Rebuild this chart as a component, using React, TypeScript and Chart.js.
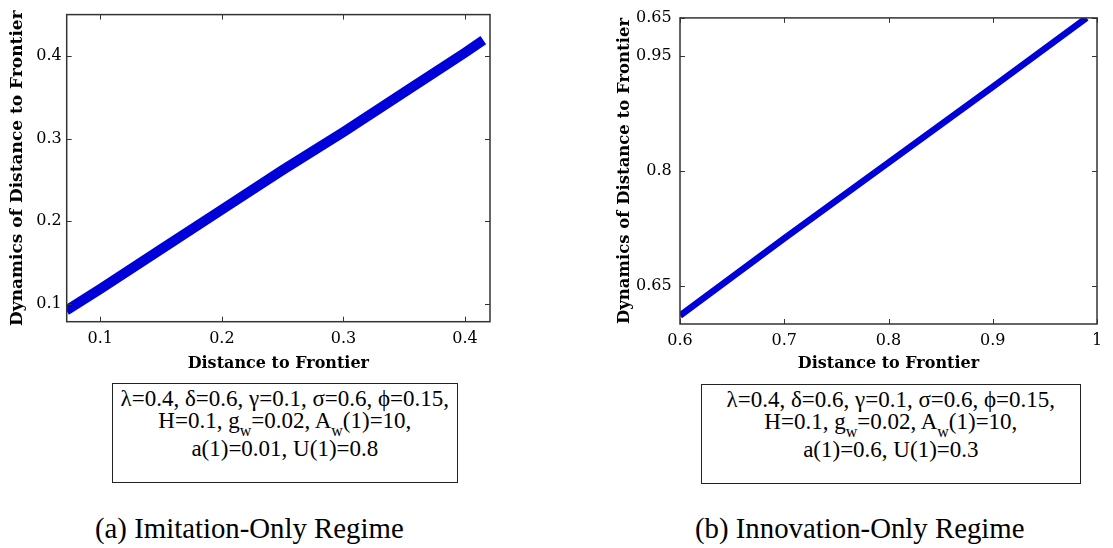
import React, { useEffect, useRef } from "react";
import { Chart, registerables } from "chart.js";

Chart.register(...registerables);

// ---------- data ----------
const imitationX = [0.072, 0.1, 0.15, 0.2, 0.25, 0.3, 0.35, 0.4, 0.415];
const imitationY = [0.092, 0.118, 0.166, 0.214, 0.262, 0.308, 0.356, 0.404, 0.419];

const innovationX = [0.6, 0.7, 0.8, 0.9, 0.99];
const innovationY = [0.611, 0.712, 0.811, 0.91, 1.0];

const aXTickValues = [0.1, 0.2, 0.3, 0.4];
const aXTickLabels = ["0.1", "0.2", "0.3", "0.4"];
const aYTickValues = [0.1, 0.2, 0.3, 0.4];
const aYTickLabels = ["0.1", "0.2", "0.3", "0.4"];

const bXTickValues = [0.6, 0.7, 0.8, 0.9, 1.0];
const bXTickLabels = ["0.6", "0.7", "0.8", "0.9", "1"];
const bYTickValues = [0.65, 0.8, 0.95, 1.0];
const bYTickLabels = ["0.65", "0.8", "0.95", "0.65"];

const xTitle = "Distance to Frontier";
const yTitle = "Dynamics of Distance to Frontier";

const captionA = "(a) Imitation-Only Regime";
const captionB = "(b) Innovation-Only Regime";

const paramLine1 = "λ=0.4, δ=0.6, γ=0.1, σ=0.6, ϕ=0.15,";
const paramAB = { a: "a(1)=0.01, U(1)=0.8", b: "a(1)=0.6, U(1)=0.3" };

const SERIF_CANVAS = "'DejaVu Serif', 'Liberation Serif', serif";

// ---------- helpers ----------
const labelFrom = (vals: number[], labels: string[]) => (v: any) => {
  const n = Number(v);
  const i = vals.findIndex((t) => Math.abs(t - n) < 1e-6);
  return i >= 0 ? labels[i] : null;
};

const boxTicks = {
  id: "boxTicks",
  afterDatasetsDraw(chart: any) {
    const { ctx, chartArea } = chart;
    const { left, right, top, bottom } = chartArea;
    const len = 5;
    ctx.save();
    ctx.strokeStyle = "#333";
    ctx.lineWidth = 1;
    ctx.beginPath();
    const xs = chart.scales.x;
    for (const t of xs.ticks) {
      const px = Math.round(xs.getPixelForValue(t.value)) + 0.5;
      ctx.moveTo(px, bottom);
      ctx.lineTo(px, bottom - len);
      ctx.moveTo(px, top);
      ctx.lineTo(px, top + len);
    }
    const ys = chart.scales.y;
    for (const t of ys.ticks) {
      const py = Math.round(ys.getPixelForValue(t.value)) + 0.5;
      ctx.moveTo(left, py);
      ctx.lineTo(left + len, py);
      ctx.moveTo(right, py);
      ctx.lineTo(right - len, py);
    }
    ctx.stroke();
    ctx.lineWidth = 1.5;
    ctx.strokeStyle = "#333";
    ctx.strokeRect(left, top, right - left, bottom - top);
    ctx.restore();
  },
};

type Cfg = {
  xs: number[];
  ys: number[];
  width: number;
  xMin: number;
  xMax: number;
  xStep: number;
  yMin: number;
  yMax: number;
  yStep: number;
  xLabel: (v: any) => string | null;
  yLabel: (v: any) => string | null;
  yWidth: number;
  xHeight: number;
  padTop: number;
  padRight: number;
  yTitlePad: number;
  yTitleSize: number;
  yTickPad: number;
  xTickPad: number;
};

function PlotCanvas(props: { cfg: Cfg; w: number; h: number; style: React.CSSProperties }) {
  const ref = useRef<HTMLCanvasElement | null>(null);
  useEffect(() => {
    const c = props.cfg;
    const tickFont = { family: SERIF_CANVAS, size: 16 };
    const chart = new Chart(ref.current as HTMLCanvasElement, {
      type: "line",
      data: {
        datasets: [
          {
            data: c.xs.map((x, i) => ({ x, y: c.ys[i] })),
            borderColor: "#0000d8",
            borderWidth: c.width,
            pointRadius: 0,
            tension: 0,
            borderCapStyle: "butt",
            clip: 0,
          } as any,
        ],
      },
      options: {
        responsive: false,
        animation: false,
        layout: { padding: { top: c.padTop, right: c.padRight, left: 0, bottom: 0 } },
        plugins: { legend: { display: false }, tooltip: { enabled: false } },
        scales: {
          x: {
            type: "linear",
            min: c.xMin,
            max: c.xMax,
            grid: { display: false, drawTicks: false },
            border: { display: false },
            ticks: {
              stepSize: c.xStep,
              autoSkip: false,
              includeBounds: false,
              maxRotation: 0,
              padding: c.xTickPad,
              color: "#000",
              font: tickFont,
              callback: c.xLabel,
            },
            title: {
              display: true,
              text: xTitle,
              color: "#000",
              font: { family: SERIF_CANVAS, size: 16, weight: "bold" },
              padding: { top: 0, bottom: 6.4 },
            },
            afterFit: (s: any) => {
              s.height = c.xHeight;
            },
          },
          y: {
            type: "linear",
            min: c.yMin,
            max: c.yMax,
            grid: { display: false, drawTicks: false },
            border: { display: false },
            ticks: {
              stepSize: c.yStep,
              autoSkip: false,
              includeBounds: false,
              padding: c.yTickPad,
              color: "#000",
              font: tickFont,
              callback: c.yLabel,
            },
            title: {
              display: true,
              text: yTitle,
              color: "#000",
              font: { family: SERIF_CANVAS, size: c.yTitleSize, weight: "bold" },
              padding: { top: c.yTitlePad, bottom: 0 },
            },
            afterFit: (s: any) => {
              s.width = c.yWidth;
            },
          },
        },
      } as any,
      plugins: [boxTicks],
    });
    return () => chart.destroy();
  }, []);
  return <canvas ref={ref} width={props.w} height={props.h} style={props.style} />;
}

const cfgA: Cfg = {
  xs: imitationX,
  ys: imitationY,
  width: 10,
  xMin: 0.0724,
  xMax: 0.4205,
  xStep: 0.05,
  yMin: 0.0784,
  yMax: 0.45,
  yStep: 0.05,
  xLabel: labelFrom(aXTickValues, aXTickLabels),
  yLabel: labelFrom(aYTickValues, aYTickLabels),
  yWidth: 66.7,
  xHeight: 58.3,
  padTop: 5,
  padRight: 10,
  yTitlePad: 7.8,
  yTitleSize: 17,
  yTickPad: 5,
  xTickPad: 7.7,
};

const cfgB: Cfg = {
  xs: innovationX,
  ys: innovationY,
  width: 6.5,
  xMin: 0.6,
  xMax: 1.0,
  xStep: 0.1,
  yMin: 0.6,
  yMax: 1.0,
  yStep: 0.05,
  xLabel: labelFrom(bXTickValues, bXTickLabels),
  yLabel: labelFrom(bYTickValues, bYTickLabels),
  yWidth: 90,
  xHeight: 56,
  padTop: 10,
  padRight: 16,
  yTitlePad: 25,
  yTitleSize: 16.5,
  yTickPad: 8.3,
  xTickPad: 7.4,
};

const abs = (s: React.CSSProperties): React.CSSProperties => ({ position: "absolute", ...s });

function ParamBox(props: { left: number; top: number; width: number; last: string }) {
  const { left, top, width, last } = props;
  const lineStyle = (t: number): React.CSSProperties =>
    abs({ left, top: t, width, textAlign: "center", fontSize: 23, lineHeight: "23px", whiteSpace: "nowrap" });
  const sub: React.CSSProperties = { fontSize: 16, position: "relative", top: 8 };
  return (
    <>
      <div
        style={abs({
          left,
          top,
          width,
          height: 100,
          border: "1.5px solid #222",
          boxSizing: "border-box",
        })}
      />
      <div style={lineStyle(top + 4)}>{paramLine1}</div>
      <div style={lineStyle(top + 26)}>
        H=0.1, g<span style={sub}>w</span>=0.02, A<span style={sub}>w</span>(1)=10,
      </div>
      <div style={lineStyle(top + 54)}>{last}</div>
    </>
  );
}

export default function App() {
  return (
    <div
      style={abs({
        left: 0,
        top: 0,
        width: 1113,
        height: 548,
        overflow: "hidden",
        background: "#fff",
        fontFamily: "'Liberation Serif', serif",
        color: "#000",
      })}
    >
      <PlotCanvas cfg={cfgA} w={500} h={380} style={abs({ left: 0, top: 0 })} />
      <PlotCanvas cfg={cfgB} w={523} h={380} style={abs({ left: 590, top: 0 })} />
      <ParamBox left={111.7} top={383.3} width={346.3} last={paramAB.a} />
      <ParamBox left={700.7} top={384} width={380.3} last={paramAB.b} />
      <div style={abs({ left: 95, top: 512, fontSize: 28.8, lineHeight: "32px", whiteSpace: "nowrap" })}>{captionA}</div>
      <div style={abs({ left: 695, top: 512, fontSize: 28.8, lineHeight: "32px", whiteSpace: "nowrap" })}>{captionB}</div>
    </div>
  );
}
